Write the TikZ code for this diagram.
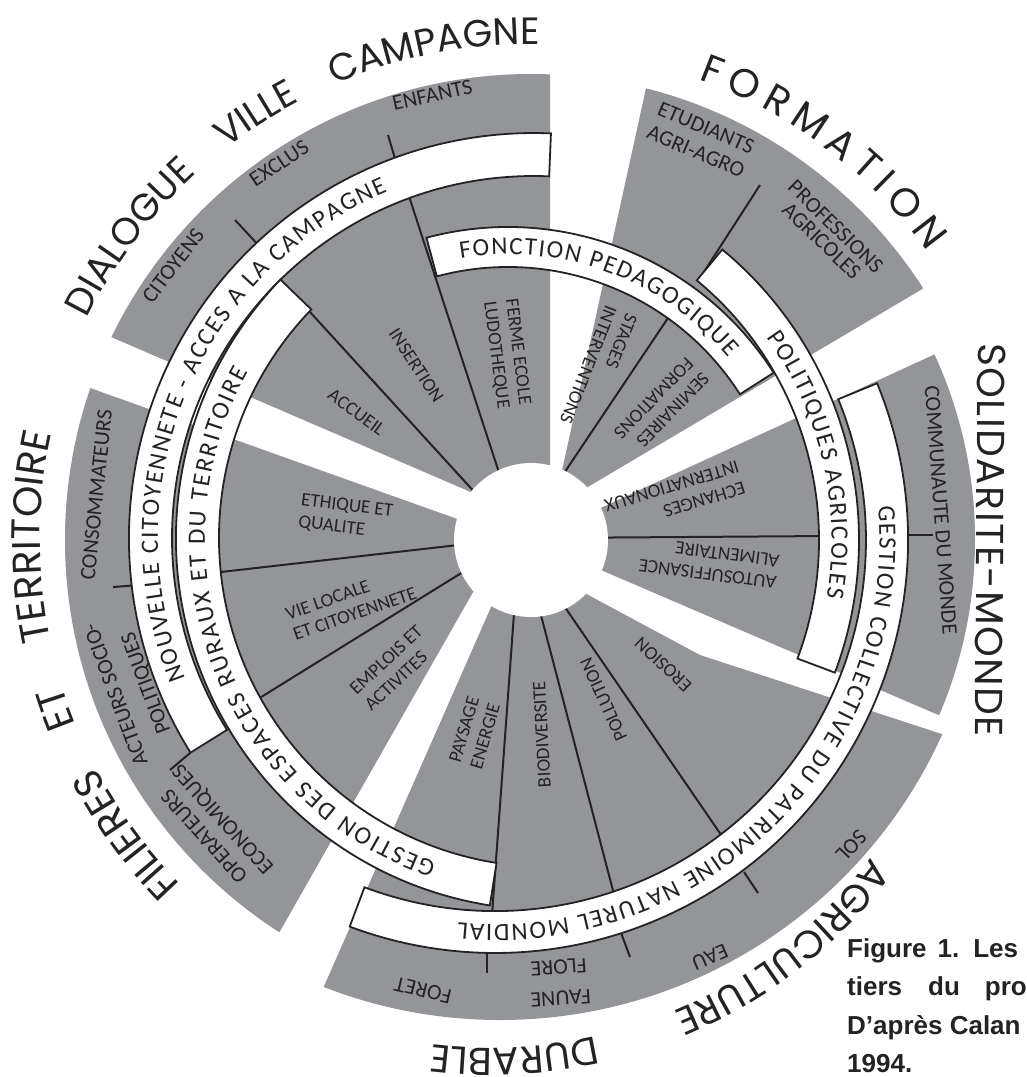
\documentclass[tikz,border=0pt]{standalone}
\usepackage{fontspec}
\setmainfont{Carlito}
\newfontfamily\titlefont{Poppins}
\newfontfamily\capfont{Liberation Sans}
\usetikzlibrary{decorations.text}

\definecolor{sectorgray}{RGB}{148,149,153}
\definecolor{ink}{RGB}{35,35,35}

\newcommand\bandsize{\fontsize{25}{27}\selectfont\color{ink}}
\newcommand\titlesize[1]{\titlefont\fontsize{#1}{#1}\selectfont\color{ink}}

\tikzset{
  sector/.style={fill=sectorgray},
  divider/.style={draw=ink, line width=2pt},
  band/.style={fill=white, draw=ink, line width=1.8pt},
  inlabel/.style={font=\fontsize{19}{22}\selectfont, text=ink, align=left, anchor=west, inner sep=0pt},
  outlabel/.style={font=\fontsize{22}{24}\selectfont, text=ink, align=center, inner sep=0pt},
  caption/.style={font=\capfont\bfseries\fontsize{26}{30}\selectfont, text=ink, anchor=base west, inner sep=0pt},
  bandtext/.style={decorate, decoration={text along path, text={|\bandsize|#1}, text align={fit to path}}},
}

\begin{document}
\begin{tikzpicture}[x=1pt,y=1pt]
\useasboundingbox (0,0) rectangle (1027,-1077);
\coordinate (M) at (531,-540);

% grey sectors
\begin{scope}
  \clip (550,0) -- (550,-540) -- (531,-518) -- (60,-315) -- (60,0) -- cycle;
  \fill[sector] (M) circle[radius=466];
\end{scope}
\begin{scope}
  \clip (554,-507) -- (661,-20) -- (1000,-243) -- cycle;
  \fill[sector] (M) circle[radius=466];
\end{scope}
\begin{scope}
  \clip (531,-540) -- (1020,-315) -- (1020,-750) -- cycle;
  \fill[sector] (M) circle[radius=444];
\end{scope}
\begin{scope}
  \clip (510,-564) -- (284,-1077) -- (1027,-1077) -- (1027,-762) -- (905,-722) -- (700,-655) -- (592,-597) -- (531,-564) -- cycle;
  \fill[sector] (500,-535) circle[radius=485];
\end{scope}
\begin{scope}
  \clip (505,-536) -- (20,-363) -- (20,-1077) -- (197,-1077) -- cycle;
  \fill[sector] (M) circle[radius=466];
\end{scope}

% dividers
\draw[divider] (521,-543) -- (310,-312);
\draw[divider] (520,-537) -- (404,-181);
\draw[divider] (538,-512) -- (672,-312);
\draw[divider] (760,-185) -- (700,-278);
\draw[divider] (540,-538) -- (830,-536);
\draw[divider] (515,-600) -- (492,-915);
\draw[divider] (537,-600) -- (616,-902);
\draw[divider] (560,-600) -- (726,-842);
\draw[divider] (520,-538) -- (212,-573);
\draw[divider] (521,-536) -- (258,-699);
% ticks
\draw[divider] (235,-220) -- (262,-249);
\draw[divider] (388,-135) -- (396,-162);
\draw[divider] (113,-587) -- (140,-585);
\draw[divider] (170,-770) -- (190,-753);
\draw[divider] (900,-535) -- (933,-535);
\draw[divider] (487,-940) -- (487,-973);
\draw[divider] (620,-930) -- (630,-957);
\draw[divider] (744,-872) -- (758,-893);

% bands
\begin{scope}[shift={(534,-538)}]
  \draw[band] (87.6:362) arc[start angle=87.6, end angle=212, radius=362] -- (212:405) arc[start angle=212, end angle=87.6, radius=405] -- cycle;
  \path[bandtext={NOUVELLE CITOYENNETE - ACCES A LA CAMPAGNE}] (202:376) arc[start angle=202, end angle=113, radius=376];
\end{scope}
\begin{scope}[shift={(548,-538)}]
  \draw[band] (136:329) arc[start angle=136, end angle=261, radius=329] -- (261:372) arc[start angle=261, end angle=136, radius=372] -- cycle;
  \path[bandtext={GESTION DES ESPACES RURAUX ET DU TERRITOIRE}] (251:343) arc[start angle=251, end angle=151, radius=343];
\end{scope}
\begin{scope}[shift={(508,-542)}]
  \draw[band] (32.5:275) arc[start angle=32.5, end angle=105, radius=275] -- (105:315) arc[start angle=105, end angle=32.5, radius=315] -- cycle;
  \path[bandtext={FONCTION PEDAGOGIQUE}] (99.5:287.5) arc[start angle=99.5, end angle=40, radius=287.5];
\end{scope}
\begin{scope}[shift={(482,-540)}]
  \draw[band] (-20.6:337) arc[start angle=-20.6, end angle=50.4, radius=337] -- (50.4:377) arc[start angle=50.4, end angle=-20.6, radius=377] -- cycle;
  \path[bandtext={POLITIQUES AGRICOLES}] (35.5:349.5) arc[start angle=35.5, end angle=-9.5, radius=349.5];
\end{scope}
\begin{scope}[shift={(495,-540)}]
  \draw[band] (-110.6:371) arc[start angle=-110.6, end angle=22.3, radius=371] -- (22.3:413) arc[start angle=22.3, end angle=-110.6, radius=413] -- cycle;
  \path[bandtext={GESTION COLLECTIVE DU PATRIMOINE NATUREL MONDIAL}] (5:384.5) arc[start angle=5, end angle=-95.5, radius=384.5];
\end{scope}

% centre
\fill[white] (M) circle[radius=77];

\begin{scope}[shift={(M)}]
  % inner labels
  \node[inlabel, rotate=-36.2] (accueil) at (143.8:249) {ACCUEIL};
  \node[inlabel, rotate=-56.7] (insertion) at (123.3:251) {INSERTION};
  \node[inlabel, rotate=-82.6] (ferme) at (97.4:242) {FERME ECOLE\\LUDOTHEQUE};
  \node[inlabel, rotate=-111.6] (stages) at (68.4:247) {STAGES\\INTERVENTIONS};
  \node[inlabel, rotate=-134.2] (seminaires) at (45.8:240) {SEMINAIRES\\FORMATIONS};
  \node[inlabel, rotate=-163.3] (echanges) at (16.7:220) {ECHANGES\\INTERNATIONAUX};
  \node[inlabel, rotate=172.6] (autosuff) at (-7.4:249) {AUTOSUFFISANCE\\ALIMENTAIRE};
  \node[inlabel, rotate=136.7] (erosion) at (-43.3:217) {EROSION};
  \node[inlabel, rotate=114.5] (pollution) at (-65.5:220) {POLLUTION};
  \node[inlabel, rotate=93.2] (biodiv) at (-86.8:248) {BIODIVERSITE};
  \node[inlabel, rotate=73.7] (paysage) at (-106.3:235) {PAYSAGE\\ENERGIE};
  \node[inlabel, rotate=43] (emplois) at (223:234) {EMPLOIS ET\\ACTIVITES};
  \node[inlabel, rotate=19.4] (vielocale) at (199.4:255.6) {VIE LOCALE\\ET CITOYENNETE};
  \node[inlabel, rotate=-7] (ethique) at (173:233) {ETHIQUE ET\\QUALITE};
  % outer labels
  \node[outlabel, rotate=52.5] (citoyens) at (142.5:451) {CITOYENS};
  \node[outlabel, rotate=33.8] (exclus) at (123.8:453) {EXCLUS};
  \node[outlabel, rotate=12.5] (enfants) at (102.5:456) {ENFANTS};
  \node[outlabel, rotate=-23] (etudiants) at (67:435) {ETUDIANTS\\[2pt]AGRI-AGRO};
  \node[outlabel, rotate=-44.2] (professions) at (45.8:427) {PROFESSIONS\\[-4pt]AGRICOLES};
  \node[outlabel, rotate=-85.8] (communaute) at (4.2:411) {COMMUNAUTE DU MONDE};
  \node[outlabel, rotate=84.1] (consommateurs) at (174.1:437) {CONSOMMATEURS};
  \node[outlabel, rotate=110.4] (acteurs) at (200.4:426) {ACTEURS SOCIO-\\[8pt]POLITIQUES};
  \node[outlabel, rotate=132.2] (operateurs) at (222.2:427.5) {OPERATEURS\\[1pt]ECONOMIQUES};
  \node[outlabel, rotate=166.5] (foret) at (256.5:463) {FORET};
  \node[outlabel, rotate=183.7] (faune) at (273.7:443.5) {FAUNE\\[7pt]FLORE};
  \node[outlabel, rotate=203.2] (eau) at (293.2:454) {EAU};
  \node[outlabel, rotate=-133.7] (sol) at (-43.7:443) {SOL};
  % titles
  \path[decorate, decoration={text along path, text={|\titlesize{38}|DIALOGUE VILLE CAMPAGNE}, text align={fit to path stretching spaces}}]
    (153.5:496) arc[start angle=153.5, end angle=89, radius=496];
  \path[decorate, decoration={text along path, text={|\titlesize{40}|FORMATION}, text align={fit to path}}]
    (70:490) arc[start angle=70, end angle=36, radius=490];
  \path[decorate, decoration={text along path, text={|\titlesize{40}|FILIERES ET TERRITOIRE}, text align={fit to path stretching spaces}}]
    (224.5:491) arc[start angle=224.5, end angle=167.5, radius=491];
\end{scope}
\path[decorate, decoration={text along path, text={|\titlesize{39}|SOLIDARITE-MONDE}, text align={fit to path}}]
  (978,-343) -- (975,-737);
\path[decorate, decoration={text along path, text={|\titlesize{39}|AGRICULTURE DURABLE}, text align={fit to path stretching spaces}}]
  (490,-570) ++(-37:478) arc[start angle=-37, end angle=-97, radius=478];

% caption
\node[caption] (fig) at (847,-957) {Figure\hskip 11pt 1.\hskip 14pt Les};
\node[caption] (tiers) at (847,-995) {tiers\hskip 26pt du\hskip 25pt pro};
\node[caption] (dapres) at (847,-1034) {D’après Calan};
\node[caption] (annee) at (847,-1072) {1994.};
\end{tikzpicture}
\end{document}
